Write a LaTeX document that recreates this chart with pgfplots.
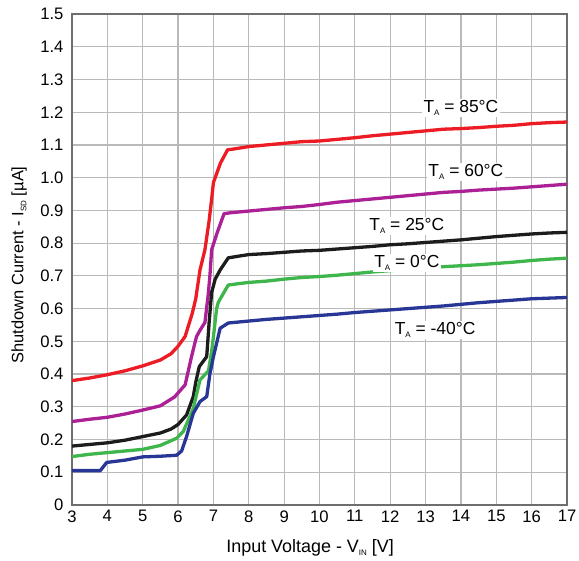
\documentclass[border=0pt]{standalone}
\usepackage{pgfplots}
\pgfplotsset{compat=1.18}
\usepackage{fontspec}
\setmainfont{Liberation Sans}
\definecolor{cred}{RGB}{237,28,36}
\definecolor{cpurple}{RGB}{172,32,150}
\definecolor{cblack}{RGB}{28,28,28}
\definecolor{cgreen}{RGB}{62,182,76}
\definecolor{cblue}{RGB}{40,55,150}
\definecolor{gridc}{RGB}{185,185,185}
\definecolor{framec}{RGB}{110,110,110}
\newcommand{\sub}[1]{\raisebox{-0.35ex}{\fontsize{8}{9}\selectfont #1}}
\begin{document}
\begin{tikzpicture}[font=\fontsize{16.7}{19}\selectfont]
\useasboundingbox (-72bp,-56bp) rectangle (507bp,505bp);
\begin{axis}[
  scale only axis, width=495bp, height=491bp,
  at={(0,0)}, anchor=south west,
  xmin=3, xmax=17, ymin=0, ymax=1.5,
  xtick={3,4,...,17},
  ytick={0,0.1,0.2,0.3,0.4,0.5,0.6,0.7,0.8,0.9,1.0,1.1,1.2,1.3,1.4,1.5},
  yticklabels={0,0.1,0.2,0.3,0.4,0.5,0.6,0.7,0.8,0.9,1.0,1.1,1.2,1.3,1.4,1.5},
  xticklabels={3,4,5,6,7,8,9,10,11,12,13,14,15,16,17},
  major tick length=0pt,
  grid=major,
  major grid style={draw=gridc, line width=1.2bp},
  axis line style={draw=framec, line width=2bp},
  xticklabel style={yshift=-2bp},
  yticklabel style={xshift=-5bp},
  xlabel={Input Voltage - V\sub{IN} [V]},
  ylabel={Shutdown Current - I\sub{SD} [µA]},
  xlabel style={font=\fontsize{18}{21}\selectfont, at={(axis description cs:0.481,-0.0876)}, anchor=center},
  ylabel style={font=\fontsize{16.5}{19}\selectfont, at={(axis description cs:-0.107,0.489)}, anchor=center},
  every axis plot/.append style={line width=3.3bp, line join=round, no marks},
  clip=true,
]
% T_A = 85C
\addplot[cred] coordinates {
(3.0,0.380)(3.5,0.388)(4.0,0.398)(4.5,0.410)(5.0,0.425)(5.5,0.443)(5.8,0.462)(6.0,0.485)(6.2,0.515)(6.4,0.585)(6.5,0.630)(6.62,0.718)(6.76,0.780)(6.88,0.870)(6.95,0.935)(7.0,0.985)(7.2,1.045)(7.4,1.085)(7.6,1.088)(8.0,1.095)(8.5,1.100)(9.0,1.105)(9.5,1.110)(10.0,1.112)(10.5,1.117)(11.0,1.122)(11.5,1.128)(12.0,1.133)(12.5,1.138)(13.0,1.143)(13.5,1.148)(14.0,1.150)(14.5,1.153)(15.0,1.157)(15.5,1.160)(16.0,1.165)(16.5,1.168)(17.0,1.170)};
% T_A = 60C
\addplot[cpurple] coordinates {
(3.0,0.255)(3.5,0.262)(4.0,0.268)(4.5,0.278)(5.0,0.290)(5.5,0.303)(5.9,0.330)(6.2,0.367)(6.38,0.453)(6.52,0.514)(6.6,0.530)(6.76,0.558)(6.85,0.640)(6.9,0.700)(6.95,0.780)(7.1,0.830)(7.3,0.890)(7.5,0.893)(8.0,0.898)(8.5,0.903)(9.0,0.908)(9.5,0.912)(10.0,0.918)(10.5,0.925)(11.0,0.930)(11.5,0.935)(12.0,0.940)(12.5,0.945)(13.0,0.950)(13.5,0.955)(14.0,0.958)(14.5,0.962)(15.0,0.965)(15.5,0.968)(16.0,0.972)(16.5,0.976)(17.0,0.980)};
% T_A = 25C
\addplot[cblack] coordinates {
(3.0,0.180)(3.5,0.185)(4.0,0.190)(4.5,0.198)(5.0,0.209)(5.5,0.220)(5.8,0.232)(6.0,0.246)(6.24,0.275)(6.43,0.331)(6.5,0.375)(6.6,0.423)(6.81,0.453)(6.88,0.560)(6.95,0.650)(7.05,0.690)(7.19,0.718)(7.42,0.755)(7.7,0.760)(8.0,0.765)(8.5,0.768)(9.0,0.772)(9.5,0.776)(10.0,0.778)(10.5,0.782)(11.0,0.786)(11.5,0.790)(12.0,0.795)(12.5,0.798)(13.0,0.802)(13.5,0.806)(14.0,0.810)(14.5,0.815)(15.0,0.820)(15.5,0.824)(16.0,0.828)(16.5,0.831)(17.0,0.833)};
% T_A = 0C
\addplot[cgreen] coordinates {
(3.0,0.148)(3.5,0.155)(4.0,0.160)(4.5,0.165)(5.0,0.170)(5.5,0.182)(5.96,0.204)(6.15,0.225)(6.43,0.295)(6.62,0.382)(6.86,0.410)(6.95,0.470)(7.0,0.514)(7.09,0.600)(7.14,0.620)(7.42,0.672)(7.7,0.676)(8.0,0.680)(8.5,0.684)(9.0,0.690)(9.5,0.695)(10.0,0.698)(10.5,0.702)(11.0,0.707)(11.5,0.712)(12.0,0.716)(12.5,0.720)(13.0,0.725)(13.5,0.728)(14.0,0.731)(14.5,0.734)(15.0,0.738)(15.5,0.742)(16.0,0.747)(16.5,0.751)(17.0,0.754)};
% T_A = -40C
\addplot[cblue] coordinates {
(3.0,0.105)(3.8,0.105)(3.98,0.130)(4.5,0.137)(5.0,0.147)(5.5,0.149)(5.96,0.152)(6.1,0.165)(6.24,0.209)(6.43,0.280)(6.62,0.316)(6.81,0.331)(6.9,0.400)(7.0,0.453)(7.19,0.540)(7.42,0.556)(8.0,0.562)(8.5,0.567)(9.0,0.571)(9.5,0.575)(10.0,0.579)(10.5,0.583)(11.0,0.588)(11.5,0.592)(12.0,0.596)(12.5,0.600)(13.0,0.604)(13.5,0.608)(14.0,0.613)(14.5,0.618)(15.0,0.622)(15.5,0.626)(16.0,0.630)(16.5,0.632)(17.0,0.634)};
\begin{scope}[every node/.style={fill=white, inner sep=1.5bp, font=\fontsize{17.5}{20}\selectfont}]
\node at (axis cs:14.0,1.213) {T\sub{A} = 85°C};
\node at (axis cs:14.14,1.017) {T\sub{A} = 60°C};
\node at (axis cs:12.47,0.852) {T\sub{A} = 25°C};
\node at (axis cs:12.47,0.739) {T\sub{A} = 0°C};
\node at (axis cs:13.27,0.535) {T\sub{A} = -40°C};
\end{scope}
\end{axis}
\end{tikzpicture}
\end{document}
